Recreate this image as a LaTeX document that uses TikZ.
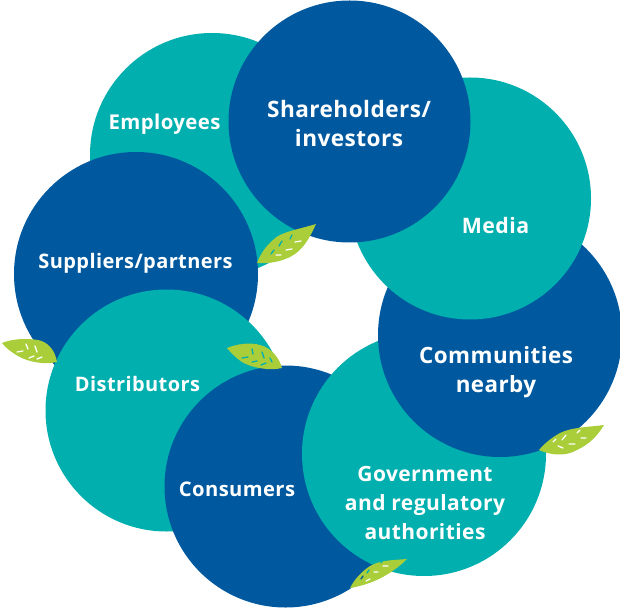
\documentclass[tikz,border=0pt]{standalone}
\usepackage{fontspec}
\setmainfont{Open Sans}[LetterSpace=2.0]
\definecolor{bluec}{HTML}{00599F}
\definecolor{tealc}{HTML}{00AFAE}
\definecolor{leafc}{HTML}{A9CE3A}
\tikzset{
  disc/.style={circle,inner sep=0pt,minimum size=244pt,fill=#1},
  smalldisc/.style={circle,inner sep=0pt,minimum size=242pt,fill=#1},
  lab/.style={text=white,font=\fontsize{#1}{29}\selectfont\bfseries,align=center,inner sep=0pt},
  leaf/.style={fill=leafc,draw=none},
  vein/.style={line width=1.3pt,line cap=round}
}
\begin{document}
\begin{tikzpicture}[x=1pt,y=-1pt]
\useasboundingbox (0,0) rectangle (620,609);
\node[disc=tealc] (c1) at (212,155) {};
\node[lab=20.4] (t1) at (164.5,124) {Employees};
\node[disc=bluec] (c2) at (136,274) {};
\node[lab=20] (t2) at (135.5,263) {Suppliers/partners};
\node[smalldisc=tealc] (c3) at (166.5,410.5) {};
\node[lab=20] (t3) at (137.5,384) {Distributors};
\node[smalldisc=bluec] (c4) at (285.5,486.5) {};
\node[lab=20.2] (t4) at (237,489) {Consumers};
\node[disc=tealc] (c5) at (424,454) {};
\node[lab=21] (t5) at (425,502.5) {Government\\and regulatory\\authorities};
\node[disc=bluec] (c6) at (500,335) {};
\node[lab=22.4] (t6) at (496,372) {Communities\\nearby};
\node[smalldisc=tealc] (c7) at (470,198.5) {};
\node[lab=21.3] (t7) at (495.5,226) {Media};
\node[smalldisc=bluec] (c8) at (349.5,121.5) {};
\node[lab=22.6] (t8) at (349,124) {Shareholders/\\investors};
% leaves
\fill[leaf] (316,224) .. controls (300,229) and (280,232) .. (273,240) .. controls (265,247) and (260,255) .. (257,263) .. controls (270,264) and (285,261) .. (295,254) .. controls (305,247) and (311,235) .. (316,224) -- cycle;
\draw[vein,tealc] (271,254) -- (274,250) (279,246) -- (282,241);
\draw[vein,tealc] (290,239) -- (292,235);
\draw[vein,white] (276,255) -- (281,255) (286,250) -- (292,249) (295,242) -- (301,241);
\fill[leaf] (2,343) .. controls (12,339) and (25,338) .. (38,340) .. controls (48,342) and (55,350) .. (57,362) .. controls (45,365) and (28,362) .. (18,356) .. controls (11,352) and (6,348) .. (2,343) -- cycle;
\draw[vein,white] (17,352) -- (23,351) (26,344) -- (28,349) (35,346) -- (37,352) (29,358) -- (34,356) (37,359) -- (42,357);
\fill[leaf] (227,348) .. controls (237,344) and (250,342) .. (260,345) .. controls (272,348) and (279,358) .. (282,368) .. controls (270,371) and (252,368) .. (242,362) .. controls (236,358) and (231,353) .. (227,348) -- cycle;
\draw[vein,tealc] (242,358) -- (248,357) (252,349) -- (253,354) (262,352) -- (264,358) (252,362) -- (257,361) (261,365) -- (266,363) (270,358) -- (272,362);
\fill[leaf] (604,425) .. controls (590,427) and (572,427) .. (560,433) .. controls (551,438) and (544,444) .. (539,450) .. controls (550,455) and (565,457) .. (577,450) .. controls (590,444) and (598,435) .. (604,425) -- cycle;
\draw[vein,white] (553,442) -- (556,439) (562,440) -- (566,435) (577,433) -- (580,430);
\draw[vein,white] (558,446) -- (563,448) (569,444) -- (575,444) (581,438) -- (586,438);
\fill[leaf] (407,559) .. controls (395,560) and (380,560) .. (370,566) .. controls (361,572) and (354,580) .. (350,588) .. controls (362,586) and (375,582) .. (388,574) .. controls (396,569) and (402,564) .. (407,559) -- cycle;
\draw[vein,bluec] (361,579) -- (363,576);
\draw[vein,tealc] (367,573) -- (369,570) (381,563) -- (382,561);
\draw[vein,white] (366,581) -- (370,579) (374,572) -- (378,572) (383,566) -- (388,566);
\end{tikzpicture}
\end{document}
